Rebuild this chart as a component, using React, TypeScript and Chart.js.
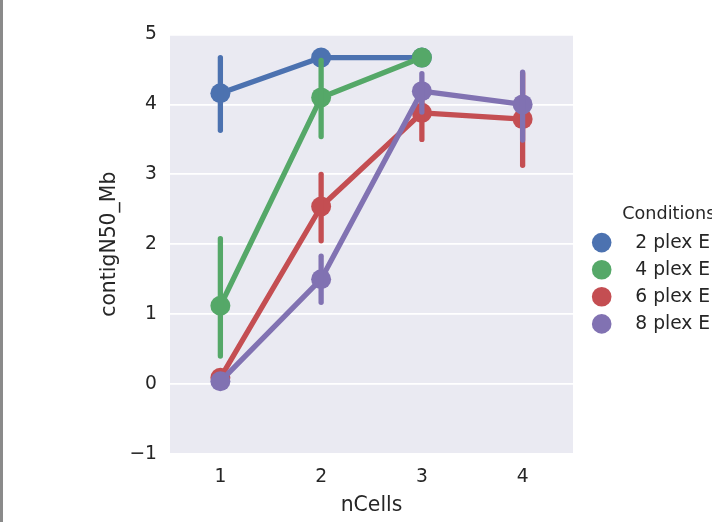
import React, { useEffect, useRef } from 'react';
import { Chart, registerables } from 'chart.js';

Chart.register(...registerables);

// ---- data ----
const categories = ['1', '2', '3', '4'];
const seriesNames = ['2 plex E', '4 plex E', '6 plex E', '8 plex E'];
const legendTitle = 'Conditions';
const xTitle = 'nCells';
const yTitle = 'contigN50_Mb';
const yMin = -1;
const yMax = 5;
const yStep = 1;

const plex2 = [4.16, 4.67, 4.67, null];
const plex2Low = [3.63, 4.67, 4.67, null];
const plex2High = [4.67, 4.67, 4.67, null];

const plex4 = [1.12, 4.1, 4.67, null];
const plex4Low = [0.4, 3.54, 4.67, null];
const plex4High = [2.08, 4.63, 4.67, null];

const plex6 = [0.09, 2.54, 3.88, 3.79];
const plex6Low = [0.09, 2.05, 3.5, 3.13];
const plex6High = [0.09, 3.0, 4.26, 4.44];

const plex8 = [0.04, 1.5, 4.19, 4.0];
const plex8Low = [0.04, 1.17, 3.89, 3.49];
const plex8High = [0.04, 1.83, 4.44, 4.46];

const colors = ['#4C72B0', '#55A868', '#C44E52', '#8172B2'];

const seriesValues = [plex2, plex4, plex6, plex8];
const seriesLow = [plex2Low, plex4Low, plex6Low, plex8Low];
const seriesHigh = [plex2High, plex4High, plex6High, plex8High];

const FONT = 'DejaVu Sans';
const TEXT = '#262626';
const LW = 5.3;

const bgPlugin = {
  id: 'axesBg',
  beforeDraw(chart: any) {
    const { ctx, chartArea } = chart;
    ctx.save();
    ctx.fillStyle = '#EAEAF2';
    ctx.fillRect(chartArea.left, chartArea.top, chartArea.right - chartArea.left, chartArea.bottom - chartArea.top);
    ctx.restore();
  },
};

const errorBarPlugin = {
  id: 'errorBars',
  afterDatasetDraw(chart: any, args: any) {
    const i = args.index;
    const low = seriesLow[i];
    const high = seriesHigh[i];
    const xs = chart.scales.x;
    const ys = chart.scales.y;
    const ctx = chart.ctx;
    ctx.save();
    ctx.strokeStyle = colors[i];
    ctx.lineWidth = LW;
    ctx.lineCap = 'round';
    for (let k = 0; k < categories.length; k++) {
      const lo = low[k];
      const hi = high[k];
      if (lo == null || hi == null || lo === hi) continue;
      const x = xs.getPixelForValue(k);
      ctx.beginPath();
      ctx.moveTo(x, ys.getPixelForValue(lo));
      ctx.lineTo(x, ys.getPixelForValue(hi));
      ctx.stroke();
    }
    ctx.restore();
  },
};

const legendPlugin = {
  id: 'customLegend',
  afterDraw(chart: any) {
    const ctx = chart.ctx;
    ctx.save();
    ctx.fillStyle = TEXT;
    ctx.textBaseline = 'middle';
    ctx.textAlign = 'left';
    ctx.font = `17.6px "${FONT}"`;
    ctx.fillText(legendTitle, 622.3, 214.2);
    ctx.font = `18.7px "${FONT}"`;
    seriesNames.forEach((name, i) => {
      const y = 242.6 + i * 27.1;
      ctx.beginPath();
      ctx.fillStyle = colors[i];
      ctx.arc(601.7, y, 9.8, 0, Math.PI * 2);
      ctx.fill();
      ctx.fillStyle = TEXT;
      ctx.fillText(name, 635.3, y + 0.5);
    });
    ctx.restore();
  },
};

export default function App() {
  const ref = useRef<HTMLCanvasElement>(null);
  useEffect(() => {
    if (!ref.current) return;
    const chart = new Chart(ref.current, {
      type: 'line',
      data: {
        labels: categories,
        datasets: seriesNames.map((name, i) => ({
          label: name,
          data: seriesValues[i],
          borderColor: colors[i],
          backgroundColor: colors[i],
          borderWidth: LW,
          borderCapStyle: 'round',
          borderJoinStyle: 'round',
          pointRadius: 10,
          pointHoverRadius: 10,
          pointBorderWidth: 0,
          pointBackgroundColor: colors[i],
          fill: false,
          tension: 0,
          order: seriesNames.length - 1 - i,
        })),
      },
      options: {
        responsive: false,
        animation: false,
        devicePixelRatio: 1,
        events: [],
        layout: { padding: { left: 0, right: 139, top: 34.5, bottom: 3.8 } },
        plugins: {
          legend: { display: false },
          tooltip: { enabled: false },
        },
        scales: {
          x: {
            type: 'category',
            offset: true,
            grid: { display: false, drawTicks: false },
            border: { display: false },
            ticks: { color: TEXT, font: { family: FONT, size: 18.7 }, padding: 11.8, maxRotation: 0 },
            title: { display: true, text: xTitle, color: TEXT, font: { family: FONT, size: 20.4 }, padding: 0 },
            afterFit(scale: any) {
              scale.height = 64.2;
            },
          },
          y: {
            min: yMin,
            max: yMax,
            grid: { color: '#ffffff', lineWidth: 1.7, drawTicks: false },
            border: { display: false },
            ticks: {
              stepSize: yStep,
              color: TEXT,
              font: { family: FONT, size: 18.7 },
              padding: 13,
              labelOffset: 0,
              callback: (v: any) => String(v).replace('-', '\u2212'),
            },
            title: {
              display: true,
              text: yTitle,
              color: TEXT,
              font: { family: FONT, size: 20.4 },
              padding: { top: 97.8, bottom: 0 },
            },
            afterFit(scale: any) {
              scale.width = 170;
            },
          },
        },
      },
      plugins: [bgPlugin, errorBarPlugin, legendPlugin],
    } as any);
    return () => chart.destroy();
  }, []);

  return (
    <div style={{ position: 'fixed', left: 0, top: 0, width: 712, height: 522, background: '#ffffff', overflow: 'hidden' }}>
      <canvas ref={ref} width={712} height={522} style={{ display: 'block', width: 712, height: 522 }} />
      <div style={{ position: 'absolute', left: 0, top: 0, width: 3, height: 522, background: '#8a8a8a' }} />
    </div>
  );
}
